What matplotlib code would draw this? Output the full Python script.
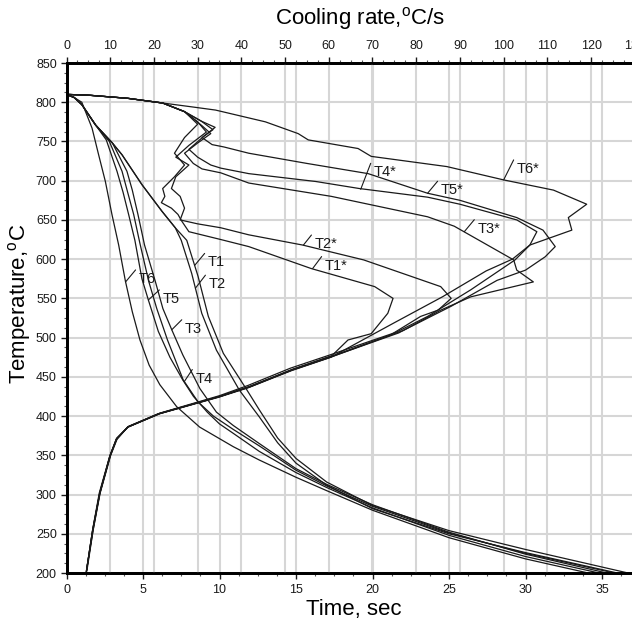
import numpy as np
import matplotlib
matplotlib.use("Agg")
import matplotlib.pyplot as plt
from matplotlib.ticker import MultipleLocator

FONT = ["Liberation Sans", "DejaVu Sans"]
plt.rcParams["font.family"] = FONT
plt.rcParams["mathtext.fontset"] = "custom"
plt.rcParams["mathtext.rm"] = FONT[0]

INK = "#1a1a1a"
GRID = "#d6d6d6"

# ----------------------------------------------------------------------
# Cooling curves: temperature (C) vs time (s), bottom axis
# ----------------------------------------------------------------------
T1_time = [0, 0.5, 1.0, 1.9, 3.0, 3.63, 4.93, 6.24, 7.11, 7.86, 8.6, 9.27, 10.25, 11.8, 12.6, 13.8, 15, 17, 20, 25, 30, 36.7]
T1_temp = [810, 806, 797, 771, 748, 733, 695, 661, 640, 624, 578, 527, 480, 433, 408, 372, 346, 316, 286, 254, 230, 200]

T2_time = [0, 0.5, 1.0, 1.9, 3.0, 3.63, 4.93, 6.24, 7.11, 7.5, 8.18, 8.84, 9.8, 11.3, 12.6, 13.8, 15, 17, 20, 25, 30, 36.0]
T2_temp = [810, 806, 797, 771, 748, 733, 695, 661, 640, 624, 582, 531, 484, 433, 399, 366, 340, 312, 282, 250, 226, 200]

T3_time = [0, 0.5, 1.0, 1.9, 3.0, 3.95, 4.3, 4.67, 5.1, 5.8, 6.3, 6.88, 7.6, 8.72, 9.8, 10.9, 12.6, 15, 17, 20, 25, 30, 35.3]
T3_temp = [810, 806, 797, 771, 748, 712, 688, 657, 618, 572, 537, 510, 478, 435, 405, 388, 365, 333, 313, 287, 252, 224, 200]

T4_time = [0, 0.5, 1.0, 1.9, 2.8, 3.63, 4.0, 4.39, 4.8, 5.37, 5.9, 6.6, 7.63, 8.6, 9.6, 10.9, 12.6, 15, 17, 20, 25, 30, 35.8]
T4_temp = [810, 806, 797, 771, 750, 712, 685, 657, 620, 572, 537, 497, 446, 418, 400, 383, 362, 331, 311, 285, 251, 225, 200]

T5_time = [0, 0.5, 1.0, 1.9, 2.6, 3.3, 3.7, 4.06, 4.47, 4.93, 5.35, 6.0, 6.76, 7.6, 8.3, 9.2, 10.0, 10.9, 12.6, 15, 17, 20, 25, 30, 34.8]
T5_temp = [810, 806, 797, 771, 752, 712, 685, 657, 624, 575, 548, 508, 475, 446, 425, 405, 390, 378, 355, 328, 309, 283, 248, 221, 200]

T6_time = [0, 0.5, 1.0, 1.67, 2.1, 2.54, 2.97, 3.41, 3.85, 4.3, 4.8, 5.4, 6.1, 7.2, 8.7, 10.9, 12.6, 15, 17, 20, 25, 30, 34.1]
T6_temp = [810, 806, 800, 767, 733, 699, 657, 618, 572, 533, 497, 465, 440, 412, 386, 361, 344, 322, 305, 280, 245, 218, 200]

# ----------------------------------------------------------------------
# Cooling-rate curves: temperature (C) vs cooling rate (C/s), top axis
# ----------------------------------------------------------------------
T1s_rate = [0, 5, 14, 22, 27, 30, 27, 24.7, 27, 24.7, 22, 22.5, 21.7, 24, 25.5, 26.3, 28, 35.3, 41.7, 56, 70.5, 74.7,
            73.5, 69.7, 64.4, 60.7, 51.4, 41.8, 35.1, 21.3, 14, 11.4, 10, 7.6, 6.1, 4.6]
T1s_temp = [810, 809, 805, 799, 788, 772, 755, 735, 720, 705, 690, 680, 672, 665, 657, 649, 635, 625, 616, 588, 565, 550,
            531, 505, 497, 477, 459, 437, 425, 403, 386, 370, 349, 301, 255, 204]

T2s_rate = [0, 5, 14, 22, 27, 30, 32, 28, 25, 28, 25, 24, 26, 27, 26, 30, 35.3, 41.7, 54, 68, 85.6, 88,
            85, 81, 74, 60.4, 51.3, 41.6, 34.9, 21.2, 14, 11.5, 10, 7.6, 6, 4.6]
T2s_temp = [810, 809, 805, 799, 788, 775, 762, 745, 730, 720, 705, 690, 680, 665, 650, 645, 640, 631, 618, 599, 565, 550,
            535, 527, 503, 475, 458, 437, 425, 403, 386, 371, 350, 302, 255, 204]

T3s_rate = [0, 5, 14, 22, 27, 31, 33, 30, 27, 29, 31, 35.3, 41.7, 60.6, 82.6, 88.7, 102.3, 103, 106.8,
            92.5, 85.6, 76, 60.8, 51.7, 41.9, 35, 21.1, 14, 11.4, 9.9, 7.6, 6, 4.6, 4.5]
T3s_temp = [810, 809, 805, 799, 788, 770, 760, 748, 735, 722, 715, 710, 697, 680, 654, 642, 599, 586, 571,
            552, 535, 506, 476, 459, 437, 425, 403, 386, 371, 349, 301, 255, 204, 200]

T4s_rate = [0, 5, 14, 22, 27, 30.8, 34, 31.5, 28, 30, 33, 35.3, 41.7, 57, 67, 82.6, 90, 103, 107.6,
            106, 102, 96, 86, 75, 60.5, 51.5, 41.5, 34.8, 21.3, 14.1, 11.5, 10, 7.6, 6, 4.6, 4.5]
T4s_temp = [810, 809, 805, 799, 788, 776, 768, 757, 740, 730, 720, 716, 709, 699, 690, 679, 670, 650, 635,
            618, 600, 585, 552, 519, 475, 458, 436, 424, 403, 386, 372, 350, 302, 255, 204, 200]

T5s_rate = [0, 5, 14, 22, 27, 30.8, 33.5, 31, 33.3, 36, 41.7, 55, 69, 82.6, 90, 103, 109, 111.8,
            109.5, 105, 98.5, 88, 77, 61, 52, 42, 35.2, 21, 14, 11.4, 9.9, 7.5, 6, 4.6, 4.5]
T5s_temp = [810, 809, 805, 799, 788, 776, 765, 755, 746, 743, 735, 722, 709, 684, 675, 653, 637, 616,
            603, 586, 573, 540, 509, 477, 460, 438, 425, 403, 386, 370, 349, 302, 256, 204, 200]

T6s_rate = [0, 5, 14, 22, 28.8, 34.1, 45.5, 53, 55.3, 66.7, 69.7, 87, 100, 111.4, 119, 114.8, 115.6,
            106, 102.6, 92.5, 82.6, 75.5, 60.3, 51.2, 41.5, 35, 21.5, 14.2, 11.6, 10.1, 7.7, 6.1, 4.7, 4.5, 0]
T6s_temp = [810, 809, 805, 799, 794, 790, 775, 760, 752, 741, 731, 718, 701, 688, 670, 653, 637,
            618, 599, 561, 527, 507, 478, 461, 439, 426, 404, 387, 371, 350, 302, 255, 204, 200, 200]

COOLING = {"T1": (T1_time, T1_temp), "T2": (T2_time, T2_temp), "T3": (T3_time, T3_temp),
           "T4": (T4_time, T4_temp), "T5": (T5_time, T5_temp), "T6": (T6_time, T6_temp)}
RATES = {"T1*": (T1s_rate, T1s_temp), "T2*": (T2s_rate, T2s_temp), "T3*": (T3s_rate, T3s_temp),
         "T4*": (T4s_rate, T4s_temp), "T5*": (T5s_rate, T5s_temp), "T6*": (T6s_rate, T6s_temp)}

# label anchor temperature on each cooling curve, and pointer offset (px)
COOL_LABEL_TEMP = {"T1": 592, "T2": 563, "T3": 510, "T4": 444, "T5": 548, "T6": 571}
COOL_LABEL_OFF = {"T1": (10, 12), "T2": (10, 13), "T3": (10, 10), "T4": (8, 12), "T5": (11, 10), "T6": (10, 12)}
# label anchors on the cooling-rate curves (rate, temp) and pointer offset (px)
RATE_LABEL_AT = {"T1*": (56.3, 588), "T2*": (54.2, 618), "T3*": (91, 635),
                 "T4*": (67.3, 689), "T5*": (82.6, 684), "T6*": (100, 701)}
RATE_LABEL_OFF = {"T1*": (9, 12), "T2*": (8, 10), "T3*": (10, 12), "T4*": (10, 26), "T5*": (10, 12), "T6*": (10, 20)}


fig = plt.figure(figsize=(6.32, 6.25), dpi=100)
# plot area runs past the right edge of the picture, as in the source
ax = fig.add_axes([66.5 / 632, 52 / 625, 612 / 632, 510 / 625])
ax2 = ax.twiny()

for t, T in COOLING.values():
    ax2.plot(t, T, color=INK, lw=0.9, transform=ax.transData)
for r, T in RATES.values():
    ax2.plot(r, T, color=INK, lw=0.9)


def pointer(axis, label, xy, xycoords, off):
    dx, dy = off
    axis.annotate("", xy=xy, xycoords=xycoords, xytext=(dx, dy), textcoords="offset pixels",
                  arrowprops=dict(arrowstyle="-", color=INK, lw=0.8, shrinkA=0, shrinkB=0))
    axis.annotate(label, xy=xy, xycoords=xycoords, xytext=(dx + 3, dy - 2), textcoords="offset pixels",
                  ha="left", va="top", fontsize=10.5, color=INK)


for name, (t, T) in COOLING.items():
    T_at = COOL_LABEL_TEMP[name]
    t_at = np.interp(T_at, T[::-1], t[::-1])
    pointer(ax2, name, (t_at, T_at), ax.transData, COOL_LABEL_OFF[name])
for name, xy in RATE_LABEL_AT.items():
    pointer(ax2, name, xy, "data", RATE_LABEL_OFF[name])

ax.set_xlim(0, 40)
ax.set_ylim(200, 850)
ax2.set_xlim(0, 140)

ax.grid(True, color=GRID, lw=1.5)
ax2.grid(True, axis="x", color=GRID, lw=1.5)
ax2.grid(False, axis="y")

# bottom ticks stop at the last one that shows inside the picture
ax.set_xticks(np.arange(0, 36, 5))
ax.xaxis.set_minor_locator(MultipleLocator(1.25))
ax.yaxis.set_major_locator(MultipleLocator(50))
ax.yaxis.set_minor_locator(MultipleLocator(12.5))
ax2.xaxis.set_major_locator(MultipleLocator(10))
ax2.xaxis.set_minor_locator(MultipleLocator(2.5))
ax.grid(True, which="major", axis="x", color=GRID, lw=1.5)

ax.tick_params(axis="both", which="major", length=4, width=1, labelsize=9, colors=INK)
ax.tick_params(axis="both", which="minor", length=2.5, width=0.8, colors="#555555")
ax.tick_params(axis="x", pad=4)
ax.tick_params(axis="y", right=False, pad=3)
ax2.tick_params(axis="x", which="major", length=4, width=1, labelsize=9, colors=INK, pad=4)
ax2.tick_params(axis="x", which="minor", length=2.5, width=0.8, colors="#555555")

for a in (ax, ax2):
    for side in ("left", "bottom", "top"):
        a.spines[side].set_linewidth(2)
        a.spines[side].set_color("black")
    a.spines["right"].set_visible(False)

fig.text(360 / 632, 1 - 19 / 625, r"Cooling rate,$^{\mathrm{o}}$C/s", ha="center", va="center", fontsize=16)
fig.text(354 / 632, 1 - 609 / 625, "Time, sec", ha="center", va="center", fontsize=16)
fig.text(20 / 632, 1 - 304 / 625, r"Temperature,$^{\mathrm{o}}$C", ha="center", va="center",
         rotation=90, fontsize=16)

fig.savefig("out.png", dpi=100)
